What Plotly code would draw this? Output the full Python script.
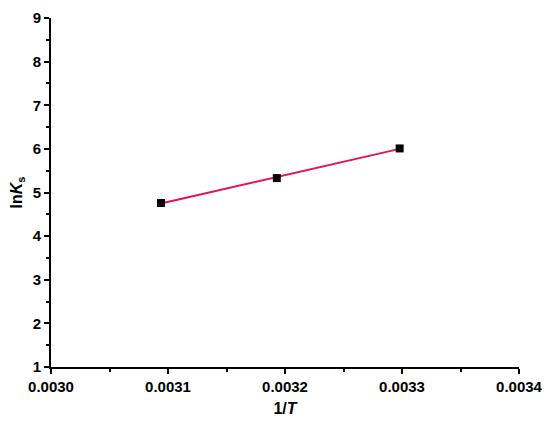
import plotly.graph_objects as go

# measured points (1/T vs ln Ks)
inv_t = [0.003094, 0.003193, 0.003298]
ln_ks = [4.76, 5.33, 6.01]

# linear fit line
fit_x = [0.003094, 0.003298]
fit_y = [4.75, 6.00]

x_ticks = [0.0030, 0.0031, 0.0032, 0.0033, 0.0034]
x_labels = ["0.0030", "0.0031", "0.0032", "0.0033", "0.0034"]
y_ticks = [1, 2, 3, 4, 5, 6, 7, 8, 9]

FONT = "Liberation Sans, Arial, sans-serif"

fig = go.Figure()
fig.add_trace(
    go.Scatter(
        x=fit_x, y=fit_y, mode="lines",
        line=dict(color="#E3125A", width=2),
        showlegend=False,
    )
)
fig.add_trace(
    go.Scatter(
        x=inv_t, y=ln_ks, mode="markers",
        marker=dict(symbol="square", size=8, color="black"),
        showlegend=False,
    )
)

axis_common = dict(
    showline=True, linecolor="black", linewidth=2,
    ticks="outside", ticklen=5, tickwidth=2, tickcolor="black",
    showgrid=False, zeroline=False, mirror=False, automargin=False,
    tickfont=dict(family=FONT, size=15, color="black", weight="bold"),
    minor=dict(ticks="outside", ticklen=3, tickwidth=1.5, tickcolor="black"),
)

# the page body adds an 8px margin, so the figure is sized to fit what is left
fig.update_layout(
    width=542, height=413,
    margin=dict(l=43, r=31, t=10, b=54),
    plot_bgcolor="white", paper_bgcolor="white",
    xaxis=dict(
        range=[0.0030, 0.0034], tickvals=x_ticks, ticktext=x_labels,
        title=dict(text="1/<i>T</i>", standoff=9,
                   font=dict(family=FONT, size=16, color="black", weight="bold")),
        **axis_common,
    ),
    yaxis=dict(
        range=[1, 9], tickvals=y_ticks,
        title=dict(text="ln<i>K</i><sub>s</sub>", standoff=6,
                   font=dict(family=FONT, size=16, color="black", weight="bold")),
        **axis_common,
    ),
)
fig.update_xaxes(minor=dict(dtick=0.00005, tick0=0.0030))
fig.update_yaxes(minor=dict(dtick=0.5, tick0=1))

fig.write_html("out.html")
